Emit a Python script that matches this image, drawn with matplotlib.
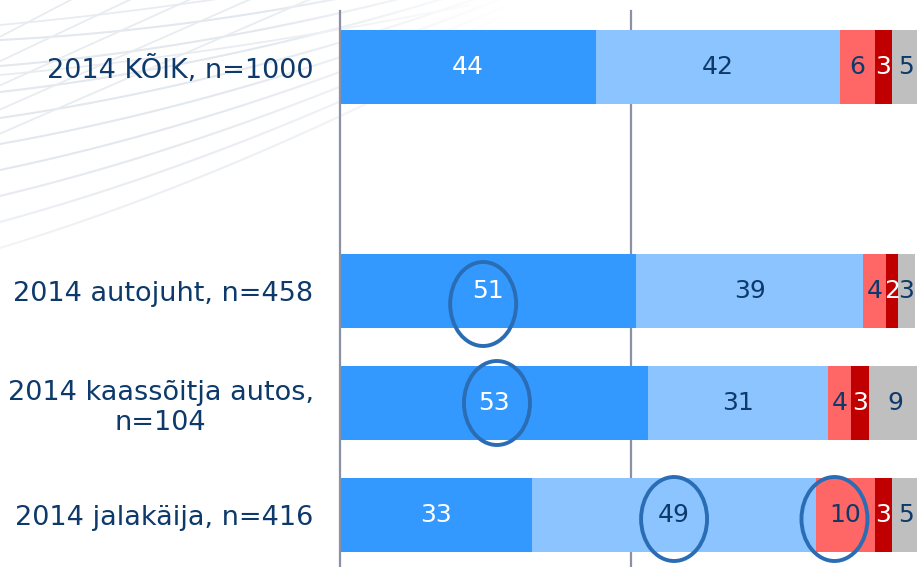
import numpy as np
import matplotlib
matplotlib.use("Agg")
import matplotlib.pyplot as plt
from matplotlib.patches import Ellipse

# Row labels (top to bottom); None leaves an empty gap row
rows = ["2014 KÕIK, n=1000", None, "2014 autojuht, n=458",
        "2014 kaassõitja autos,\nn=104", "2014 jalakäija, n=416"]

# Percent shares per answer category, one list per row
v_dark_blue = [44, None, 51, 53, 33]
v_light_blue = [42, None, 39, 31, 49]
v_light_red = [6, None, 4, 4, 10]
v_dark_red = [3, None, 2, 3, 3]
v_gray = [5, None, 3, 9, 5]

# Values singled out with an outline ring: (row index, segment index)
highlights = [(2, 0), (3, 0), (4, 1), (4, 2)]

series = [v_dark_blue, v_light_blue, v_light_red, v_dark_red, v_gray]
colors = ["#3399FF", "#8BC4FF", "#FF6666", "#C00000", "#BFBFBF"]
text_colors = ["white", "#0D3A6B", "#0D3A6B", "white", "#0D3A6B"]
navy = "#0D3A6B"

W, H = 917, 567
fig = plt.figure(figsize=(W / 100, H / 100), dpi=100)

# faint decorative curves in the upper-left corner
bg = fig.add_axes([0, 0, 1, 1], zorder=0)
bg.set_xlim(0, W)
bg.set_ylim(H, 0)
bg.axis("off")
t = np.linspace(0, 1, 400)[:, None]


def bezier(p0, p1, p2):
    p0, p1, p2 = map(np.asarray, (p0, p1, p2))
    return (1 - t) ** 2 * p0 + 2 * (1 - t) * t * p1 + t ** 2 * p2


for y0 in np.arange(40, 270, 26):
    c = bezier((0, y0), (260, 0.68 * y0), (540, -60 + 0.3 * y0))
    bg.plot(c[:, 0], c[:, 1], color="#E3E8EE", lw=1.5)
for x0 in np.arange(80, 330, 60):
    c = bezier((x0, -5), (0.5 * x0, 0.2 * x0), (-10, 0.4 * x0 + 10))
    bg.plot(c[:, 0], c[:, 1], color="#E8ECF1", lw=1.3)
for y0 in (25, 75):
    c = bezier((0, y0), (220, y0 - 20), (470, y0 - 70))
    bg.plot(c[:, 0], c[:, 1], color="#E8ECF1", lw=1.3)

# fade the curves towards the bottom and right
yy, xx = np.mgrid[0:H, 0:W]
d = np.sqrt((xx / 480.0) ** 2 + (yy / 300.0) ** 2)
fade = np.clip((d - 0.55) / 0.5, 0, 1)
overlay = np.ones((H, W, 4))
overlay[..., 3] = fade
bg.imshow(overlay, extent=(0, W, H, 0), zorder=5, aspect="auto")

# main stacked bar chart
px_per_unit = 5.81
left_px = 340
ax = fig.add_axes([left_px / W, 0, 1 - left_px / W, 1], zorder=1)
ax.patch.set_alpha(0)
ax.set_xlim(0, (W - left_px) / px_per_unit)
unit_px = 112.0
ax.set_ylim(4 + 52 / unit_px, -67 / unit_px)

line_top = 1 - 11 / H
for gx in (0, 50):
    ax.axvline(gx, ymin=0, ymax=line_top, color="#8A90A6", lw=1.6,
               zorder=0 if gx else 3, clip_on=False)

bar_h = 74 / unit_px
for ri, label in enumerate(rows):
    if label is None:
        continue
    start = 0
    for si, vals in enumerate(series):
        v = vals[ri]
        ax.barh(ri, v, left=start, height=bar_h, color=colors[si],
                edgecolor="none", zorder=2)
        ax.text(start + v / 2, ri, str(v), ha="center", va="center",
                fontsize=18, color=text_colors[si], zorder=4)
        start += v

ring_offsets = {(2, 0): (-5, 13), (3, 0): (3, 0), (4, 1): (0, 4), (4, 2): (-11, 4)}
for (ri, si) in highlights:
    start = sum(series[k][ri] for k in range(si))
    cxv = start + series[si][ri] / 2
    dx, dy = ring_offsets[(ri, si)]
    ax.add_patch(Ellipse((cxv + dx / px_per_unit, ri + dy / unit_px),
                         66 / px_per_unit, 84 / unit_px, fill=False,
                         edgecolor="#2A6DB5", lw=2.8, zorder=5))

ticks = [i for i, r in enumerate(rows) if r is not None]
ax.set_yticks(ticks)
ax.set_yticklabels([rows[i] for i in ticks], fontsize=19.5, color=navy)
for tl in ax.get_yticklabels():
    tl.set_multialignment("center")
ax.tick_params(axis="y", length=0, pad=19)
ax.set_xticks([])
for s in ax.spines.values():
    s.set_visible(False)

fig.savefig("out.png", dpi=100, facecolor="white")
